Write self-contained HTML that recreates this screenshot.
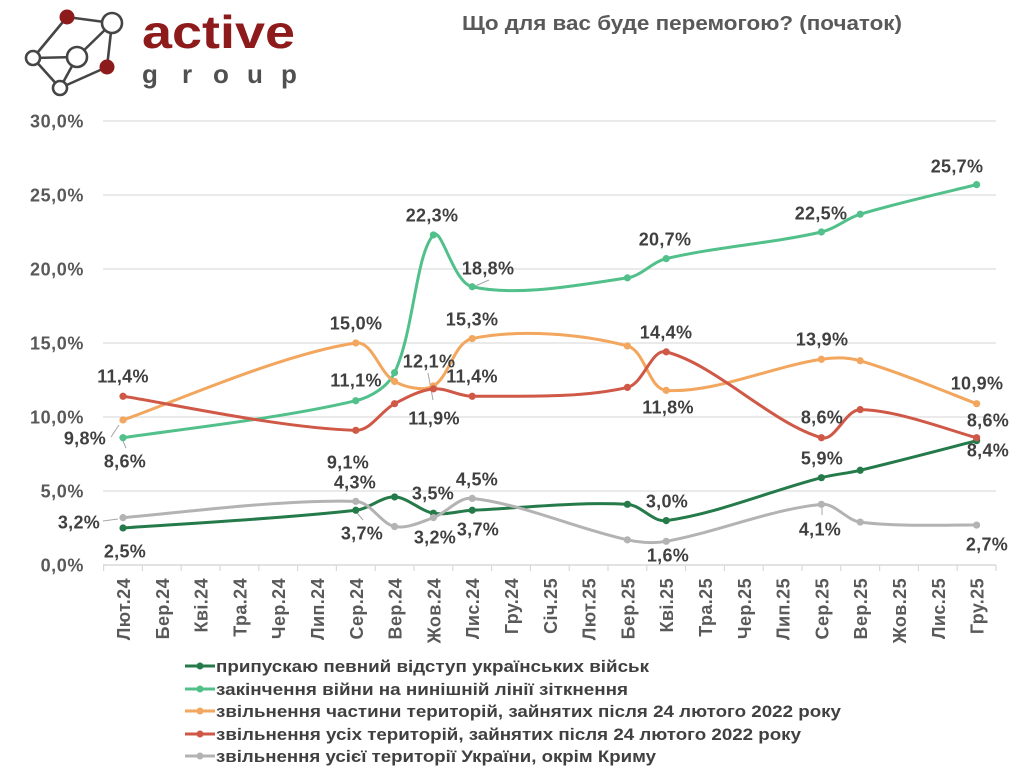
<!DOCTYPE html>
<html>
<head>
<meta charset="utf-8">
<style>
html,body{margin:0;padding:0;background:#fff;}
svg{display:block;}
.lbl{font-family:"Liberation Sans",sans-serif;font-weight:bold;font-size:18px;fill:#404040;letter-spacing:0.3px;}
.ax{font-family:"Liberation Sans",sans-serif;font-weight:bold;font-size:18px;fill:#595959;letter-spacing:0.6px;}
.xl{font-family:"Liberation Sans",sans-serif;font-weight:bold;font-size:18px;fill:#595959;letter-spacing:0.4px;}
.lg{font-family:"Liberation Sans",sans-serif;font-weight:bold;font-size:17px;fill:#404040;}
</style>
</head>
<body>
<svg id="chart" width="1024" height="768" viewBox="0 0 1024 768" xmlns="http://www.w3.org/2000/svg">
<rect width="1024" height="768" fill="#fff"/>
<!-- logo -->
<g stroke="#454545" stroke-width="2.6" fill="none">
<line x1="67" y1="17" x2="112" y2="23"/>
<line x1="67" y1="17" x2="33" y2="58"/>
<line x1="112" y1="23" x2="77" y2="57"/>
<line x1="112" y1="23" x2="107" y2="67"/>
<line x1="33" y1="58" x2="77" y2="57"/>
<line x1="33" y1="58" x2="60" y2="88"/>
<line x1="77" y1="57" x2="60" y2="88"/>
<line x1="60" y1="88" x2="107" y2="67"/>
</g>
<g stroke="#454545" stroke-width="2.6">
<circle cx="112" cy="23" r="10" fill="#fff"/>
<circle cx="33" cy="58" r="7" fill="#fff"/>
<circle cx="77" cy="57" r="10" fill="#fff"/>
<circle cx="60" cy="88" r="7" fill="#fff"/>
</g>
<circle cx="67" cy="17" r="7.5" fill="#8e1b1b"/>
<circle cx="107" cy="67" r="7.5" fill="#8e1b1b"/>
<text x="142" y="48" font-family="Liberation Sans,sans-serif" font-weight="bold" font-size="46" fill="#8e1b1b" textLength="153" lengthAdjust="spacingAndGlyphs">active</text>
<g font-family="Liberation Sans,sans-serif" font-weight="bold" font-size="26" fill="#505050">
<text x="142" y="83">g</text><text x="182" y="83">r</text><text x="213" y="83">o</text><text x="247" y="83">u</text><text x="281" y="83">p</text>
</g>
<!-- title -->
<text x="462" y="30" font-family="Liberation Sans,sans-serif" font-weight="bold" font-size="20" fill="#595959" textLength="440" lengthAdjust="spacingAndGlyphs">Що для вас буде перемогою? (початок)</text>
<!-- grid -->
<g stroke="#e3e3e3" stroke-width="1.5">
<line x1="103" y1="121" x2="996" y2="121"/>
<line x1="103" y1="195" x2="996" y2="195"/>
<line x1="103" y1="269" x2="996" y2="269"/>
<line x1="103" y1="343" x2="996" y2="343"/>
<line x1="103" y1="417" x2="996" y2="417"/>
<line x1="103" y1="491" x2="996" y2="491"/>
</g>
<line x1="103" y1="565" x2="996" y2="565" stroke="#d9d9d9" stroke-width="1.5"/>
<g id="ticks" stroke="#d9d9d9" stroke-width="1.2"></g>
<!-- y labels -->
<g class="ax" text-anchor="end">
<text x="84" y="127.5">30,0%</text>
<text x="84" y="201.5">25,0%</text>
<text x="84" y="275.5">20,0%</text>
<text x="84" y="349.5">15,0%</text>
<text x="84" y="423.5">10,0%</text>
<text x="84" y="497.5">5,0%</text>
<text x="84" y="571.5">0,0%</text>
</g>
<!-- x labels -->
<g class="xl" text-anchor="end">
<text transform="translate(130,578) rotate(-90)">Лют.24</text>
<text transform="translate(168.8,578) rotate(-90)">Бер.24</text>
<text transform="translate(207.6,578) rotate(-90)">Кві.24</text>
<text transform="translate(246.4,578) rotate(-90)">Тра.24</text>
<text transform="translate(285.2,578) rotate(-90)">Чер.24</text>
<text transform="translate(324,578) rotate(-90)">Лип.24</text>
<text transform="translate(362.8,578) rotate(-90)">Сер.24</text>
<text transform="translate(401.6,578) rotate(-90)">Вер.24</text>
<text transform="translate(440.4,578) rotate(-90)">Жов.24</text>
<text transform="translate(479.2,578) rotate(-90)">Лис.24</text>
<text transform="translate(518,578) rotate(-90)">Гру.24</text>
<text transform="translate(556.8,578) rotate(-90)">Січ.25</text>
<text transform="translate(595.6,578) rotate(-90)">Лют.25</text>
<text transform="translate(634.4,578) rotate(-90)">Бер.25</text>
<text transform="translate(673.2,578) rotate(-90)">Кві.25</text>
<text transform="translate(712,578) rotate(-90)">Тра.25</text>
<text transform="translate(750.8,578) rotate(-90)">Чер.25</text>
<text transform="translate(789.6,578) rotate(-90)">Лип.25</text>
<text transform="translate(828.4,578) rotate(-90)">Сер.25</text>
<text transform="translate(867.2,578) rotate(-90)">Вер.25</text>
<text transform="translate(906,578) rotate(-90)">Жов.25</text>
<text transform="translate(944.8,578) rotate(-90)">Лис.25</text>
<text transform="translate(983.6,578) rotate(-90)">Гру.25</text>
</g>
<!-- leader lines -->
<g stroke="#a6a6a6" stroke-width="1">
<line x1="111" y1="437" x2="119" y2="425"/>
<line x1="123" y1="441" x2="126" y2="448"/>
<line x1="103" y1="521" x2="118" y2="519"/>
<line x1="428" y1="373" x2="433" y2="400"/>
<line x1="473" y1="287" x2="489" y2="280"/>
<line x1="357" y1="513" x2="363" y2="520"/>
<line x1="822" y1="506" x2="822" y2="515"/>
</g>
<g id="series"></g>
<!-- data labels -->
<g class="lbl" text-anchor="middle">
<text x="957" y="172.5">25,7%</text>
<text x="432" y="221.5">22,3%</text>
<text x="821" y="219.5">22,5%</text>
<text x="665" y="245.5">20,7%</text>
<text x="488" y="274.5">18,8%</text>
<text x="356" y="329.5">15,0%</text>
<text x="472" y="325.5">15,3%</text>
<text x="666" y="338.5">14,4%</text>
<text x="822" y="345.5">13,9%</text>
<text x="429" y="367.5">12,1%</text>
<text x="356" y="386.5">11,1%</text>
<text x="123" y="382.5">11,4%</text>
<text x="472" y="382.5">11,4%</text>
<text x="977" y="389.5">10,9%</text>
<text x="434" y="424.5">11,9%</text>
<text x="668" y="413.5">11,8%</text>
<text x="85" y="444.5">9,8%</text>
<text x="125" y="467.5">8,6%</text>
<text x="348" y="468.5">9,1%</text>
<text x="822" y="423.5">8,6%</text>
<text x="988" y="426.5">8,6%</text>
<text x="988" y="456.5">8,4%</text>
<text x="822" y="464.5">5,9%</text>
<text x="355" y="488.5">4,3%</text>
<text x="433" y="499.5">3,5%</text>
<text x="477" y="485.5">4,5%</text>
<text x="667" y="507.5">3,0%</text>
<text x="79" y="528.5">3,2%</text>
<text x="362" y="539.5">3,7%</text>
<text x="435" y="543.5">3,2%</text>
<text x="478" y="535.5">3,7%</text>
<text x="125" y="557.5">2,5%</text>
<text x="668" y="561.5">1,6%</text>
<text x="820" y="535.5">4,1%</text>
<text x="987" y="550.5">2,7%</text>
</g>
<!-- legend -->
<g stroke-width="3">
<line x1="185" y1="666" x2="215" y2="666" stroke="#257a4a"/>
<line x1="185" y1="689" x2="215" y2="689" stroke="#52c08a"/>
<line x1="185" y1="711" x2="215" y2="711" stroke="#f2a65e"/>
<line x1="185" y1="734" x2="215" y2="734" stroke="#cf5846"/>
<line x1="185" y1="756" x2="215" y2="756" stroke="#b3b3b3"/>
</g>
<circle cx="200" cy="666" r="3.5" fill="#257a4a"/>
<circle cx="200" cy="689" r="3.5" fill="#52c08a"/>
<circle cx="200" cy="711" r="3.5" fill="#f2a65e"/>
<circle cx="200" cy="734" r="3.5" fill="#cf5846"/>
<circle cx="200" cy="756" r="3.5" fill="#b3b3b3"/>
<g class="lg">
<text x="216" y="672" textLength="433" lengthAdjust="spacingAndGlyphs">припускаю певний відступ українських військ</text>
<text x="216" y="695" textLength="412" lengthAdjust="spacingAndGlyphs">закінчення війни на нинішній лінії зіткнення</text>
<text x="216" y="717" textLength="625" lengthAdjust="spacingAndGlyphs">звільнення частини територій, зайнятих після 24 лютого 2022 року</text>
<text x="216" y="740" textLength="585" lengthAdjust="spacingAndGlyphs">звільнення усіх територій, зайнятих після 24 лютого 2022 року</text>
<text x="216" y="762" textLength="440" lengthAdjust="spacingAndGlyphs">звільнення усієї території України, окрім Криму</text>
</g>
</svg>
<script>
(function(){
var NS="http://www.w3.org/2000/svg";
var ticks=document.getElementById("ticks");
for(var j=0;j<=23;j++){
 var x=103.6+38.8*j;
 var l=document.createElementNS(NS,"line");
 l.setAttribute("x1",x);l.setAttribute("x2",x);l.setAttribute("y1",565);l.setAttribute("y2",571);
 ticks.appendChild(l);
}
var X=[123,355.8,394.6,433.4,472.2,627.4,666.2,821.4,860.2,976.6];
function Y(v){return 565-14.8*v;}
var series=[
 ["#257a4a",[2.5,3.7,4.6,3.5,3.7,4.1,3.0,5.9,6.4,8.4]],
 ["#52c08a",[8.6,11.1,13.0,22.3,18.8,19.4,20.7,22.5,23.7,25.7]],
 ["#f2a65e",[9.8,15.0,12.4,12.1,15.3,14.8,11.8,13.9,13.8,10.9]],
 ["#cf5846",[11.4,9.1,10.9,11.9,11.4,12.0,14.4,8.6,10.5,8.6]],
 ["#b3b3b3",[3.2,4.3,2.6,3.2,4.5,1.7,1.6,4.1,2.9,2.7]]
];
function dist(a,b){return Math.sqrt((b[0]-a[0])*(b[0]-a[0])+(b[1]-a[1])*(b[1]-a[1]));}
function f(n){return n.toFixed(2);}
var g=document.getElementById("series");
series.forEach(function(s){
 var pts=s[1].map(function(v,i){return [X[i],Y(v)];});
 var n=pts.length;
 var seg=[];for(var i=0;i<n-1;i++)seg.push(dist(pts[i],pts[i+1]));
 var d="M"+f(pts[0][0])+","+f(pts[0][1]);
 for(var i=0;i<n-1;i++){
  var p0=pts[Math.max(i-1,0)],p1=pts[i],p2=pts[i+1],p3=pts[Math.min(i+2,n-1)];
  var dPrev=i>0?seg[i-1]:seg[i];
  var dNext=i<n-2?seg[i+1]:seg[i];
  var dc=seg[i];
  var k1=dc/(dPrev+dc)/3, k2=dc/(dc+dNext)/3;
  if(i===0)k1=1/6;
  if(i===n-2)k2=1/6;
  var c1=[p1[0]+(p2[0]-p0[0])*k1,p1[1]+(p2[1]-p0[1])*k1];
  var c2=[p2[0]-(p3[0]-p1[0])*k2,p2[1]-(p3[1]-p1[1])*k2];
  d+=" C"+f(c1[0])+","+f(c1[1])+" "+f(c2[0])+","+f(c2[1])+" "+f(p2[0])+","+f(p2[1]);
 }
 var p=document.createElementNS(NS,"path");
 p.setAttribute("d",d);p.setAttribute("fill","none");p.setAttribute("stroke",s[0]);
 p.setAttribute("stroke-width","3");p.setAttribute("stroke-linejoin","round");p.setAttribute("stroke-linecap","round");
 g.appendChild(p);
 pts.forEach(function(q){
  var c=document.createElementNS(NS,"circle");
  c.setAttribute("cx",q[0]);c.setAttribute("cy",q[1]);c.setAttribute("r","3.6");c.setAttribute("fill",s[0]);
  g.appendChild(c);
 });
});
})();
</script>
</body>
</html>
